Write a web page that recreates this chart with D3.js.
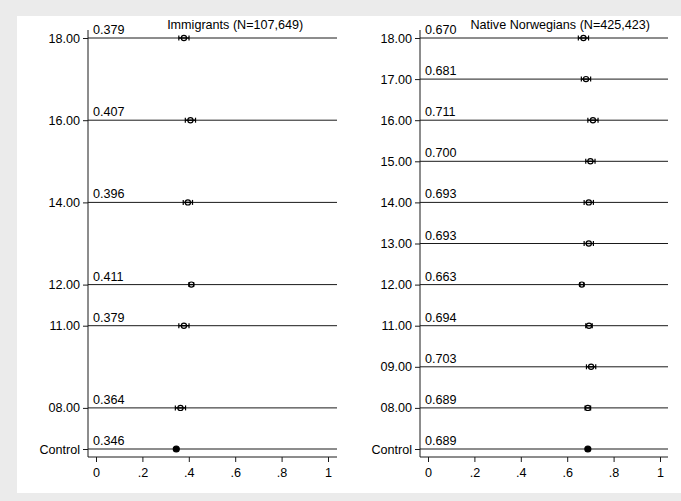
<!DOCTYPE html>
<html>
<head>
<meta charset="utf-8">
<script src="https://cdn.jsdelivr.net/npm/d3@7"></script>
<style>
  body { margin: 0; background: #fff; }
  svg { display: block; font-family: "Liberation Sans", Arial, sans-serif; }
  .tick text { font-size: 12.6px; fill: #000; font-family: "Liberation Sans", Arial, sans-serif; }
</style>
</head>
<body>
<script>
// all row categories, bottom to top
const categories = ['Control', '08.00', '09.00', '11.00', '12.00', '13.00', '14.00', '15.00', '16.00', '17.00', '18.00']

const immigrantCats = ['Control', '08.00', '11.00', '12.00', '14.00', '16.00', '18.00']
const immigrantValues = [0.346, 0.364, 0.379, 0.411, 0.396, 0.407, 0.379]
const immigrantCI = [0, 0.022, 0.022, 0.01, 0.02, 0.022, 0.022]

const nativeCats = ['Control', '08.00', '09.00', '11.00', '12.00', '13.00', '14.00', '15.00', '16.00', '17.00', '18.00']
const nativeValues = [0.689, 0.689, 0.703, 0.694, 0.663, 0.693, 0.693, 0.700, 0.711, 0.681, 0.670]
const nativeCI = [0, 0.012, 0.02, 0.014, 0.008, 0.02, 0.02, 0.02, 0.022, 0.02, 0.022]

const xTicks = [0, 0.2, 0.4, 0.6, 0.8, 1]

const titles = ['Immigrants (N=107,649)', 'Native Norwegians (N=425,423)']

const W = 681, H = 501
const ink = '#1a1a1a'
const fontSize = 12.6

const svg = d3.select('body').append('svg')
  .attr('width', W)
  .attr('height', H)

svg.append('rect').attr('width', W).attr('height', H).attr('fill', '#ebebeb')
svg.append('rect').attr('x', 17).attr('y', 16).attr('width', W - 17).attr('height', 477).attr('fill', '#fff')

const axisTop = 30, axisBottom = 457

const y = d3.scalePoint()
  .domain(categories)
  .range([449, 38])

const panels = [
  { cats: immigrantCats, values: immigrantValues, ci: immigrantCI, title: titles[0], left: 88, right: 337, range: [96, 328], titleAt: 0.6 },
  { cats: nativeCats, values: nativeValues, ci: nativeCI, title: titles[1], left: 420, right: 668, range: [428, 660], titleAt: 0.57 }
]

panels.forEach(p => {
  const x = d3.scaleLinear().domain([0, 1]).range(p.range)
  const g = svg.append('g')
  const rows = p.cats.map((c, i) => ({ cat: c, value: p.values[i], ci: p.ci[i] }))

  // y axis
  const ya = g.append('g')
    .attr('transform', `translate(${p.left},0)`)
    .call(d3.axisLeft(y).tickValues(p.cats).tickSize(5).tickPadding(3))
  ya.select('.domain').remove()
  ya.selectAll('.tick line').attr('stroke', ink)

  g.append('line')
    .attr('x1', p.left).attr('x2', p.left)
    .attr('y1', axisTop).attr('y2', axisBottom)
    .attr('stroke', ink)

  // x axis
  const xa = g.append('g')
    .attr('transform', `translate(0,${axisBottom})`)
    .call(d3.axisBottom(x).tickValues(xTicks).tickSize(5).tickPadding(6)
      .tickFormat(d => d === 0 || d === 1 ? String(d) : String(d).replace('0.', '.')))
  xa.select('.domain').remove()
  xa.selectAll('.tick line').attr('stroke', ink)

  g.append('line')
    .attr('x1', p.left).attr('x2', p.right)
    .attr('y1', axisBottom).attr('y2', axisBottom)
    .attr('stroke', ink)

  // row lines
  g.selectAll('.row')
    .data(rows)
    .enter()
    .append('line')
    .attr('x1', p.left).attr('x2', p.right)
    .attr('y1', d => y(d.cat)).attr('y2', d => y(d.cat))
    .attr('stroke', ink)

  // value labels
  g.selectAll('.val')
    .data(rows)
    .enter()
    .append('text')
    .attr('x', p.left + 5)
    .attr('y', d => y(d.cat) - 4)
    .attr('font-size', fontSize)
    .text(d => d.value.toFixed(3))

  // confidence intervals
  const ci = rows.filter(d => d.ci > 0)
  g.selectAll('.cap-l')
    .data(ci)
    .enter()
    .append('line')
    .attr('x1', d => x(d.value - d.ci)).attr('x2', d => x(d.value - d.ci))
    .attr('y1', d => y(d.cat) - 2.5).attr('y2', d => y(d.cat) + 2.5)
    .attr('stroke', '#000').attr('stroke-width', 1.2)
  g.selectAll('.cap-r')
    .data(ci)
    .enter()
    .append('line')
    .attr('x1', d => x(d.value + d.ci)).attr('x2', d => x(d.value + d.ci))
    .attr('y1', d => y(d.cat) - 2.5).attr('y2', d => y(d.cat) + 2.5)
    .attr('stroke', '#000').attr('stroke-width', 1.2)
  g.selectAll('.bar')
    .data(ci)
    .enter()
    .append('line')
    .attr('x1', d => x(d.value - d.ci)).attr('x2', d => x(d.value + d.ci))
    .attr('y1', d => y(d.cat)).attr('y2', d => y(d.cat))
    .attr('stroke', '#000').attr('stroke-width', 1.4)

  // point estimates
  g.selectAll('.pt')
    .data(rows)
    .enter()
    .append('circle')
    .attr('cx', d => x(d.value))
    .attr('cy', d => y(d.cat))
    .attr('r', d => d.ci > 0 ? 2.6 : 3)
    .attr('fill', d => d.ci > 0 ? 'none' : '#000')
    .attr('stroke', '#000')
    .attr('stroke-width', 1.2)

  // panel title
  g.append('text')
    .attr('x', x(p.titleAt))
    .attr('y', 29)
    .attr('text-anchor', 'middle')
    .attr('font-size', fontSize)
    .text(p.title)
})
</script>
</body>
</html>
